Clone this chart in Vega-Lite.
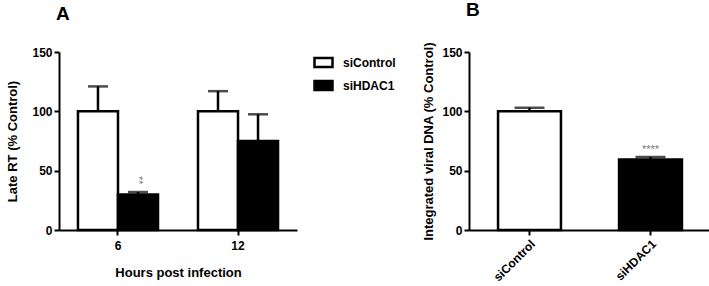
{
  "$schema": "https://vega.github.io/schema/vega-lite/v6.json",
  "padding": {"left": 6, "top": 0, "right": 0, "bottom": 0},
  "background": "white",
  "spacing": 26,
  "config": {
    "font": "Liberation Sans",
    "view": {"stroke": null},
    "axis": {
      "domainColor": "black", "domainWidth": 2, "tickColor": "black", "tickWidth": 2, "tickSize": 5,
      "labelFont": "Liberation Sans", "labelFontWeight": "bold", "labelFontSize": 12, "labelColor": "black",
      "titleFont": "Liberation Sans", "titleFontWeight": "bold", "titleFontSize": 13, "titleColor": "black",
      "grid": false
    },
    "title": {"font": "Liberation Sans", "fontSize": 19, "fontWeight": "bold", "color": "black", "anchor": "start", "frame": "group"}
  },
  "resolve": {"legend": {"fill": "independent"}, "scale": {"fill": "independent"}},
  "hconcat": [
    {
      "title": {"text": "A", "offset": 22, "dx": -3},
      "width": 238,
      "height": 178,
      "data": {"values": [
        {"hours": "6", "group": "siControl", "value": 100, "upper": 121},
        {"hours": "6", "group": "siHDAC1", "value": 30, "upper": 32, "star": "**", "starY": 42},
        {"hours": "12", "group": "siControl", "value": 100, "upper": 117},
        {"hours": "12", "group": "siHDAC1", "value": 75, "upper": 97.5}
      ]},
      "encoding": {
        "x": {"field": "hours", "type": "nominal", "sort": ["6", "12"],
              "scale": {"paddingInner": 0.333, "paddingOuter": 0.158},
              "axis": {"title": "Hours post infection", "labelAngle": 0, "titleFontSize": 13, "titlePadding": 15, "labelPadding": 5}},
        "xOffset": {"field": "group", "type": "nominal", "sort": ["siControl", "siHDAC1"]}
      },
      "layer": [
        {
          "mark": {"type": "rule", "stroke": "black", "strokeWidth": 2.5},
          "encoding": {"y": {"field": "value", "type": "quantitative"}, "y2": {"field": "upper"}}
        },
        {
          "mark": {"type": "tick", "color": "black", "size": 20, "thickness": 2.5},
          "encoding": {"y": {"field": "upper", "type": "quantitative"}}
        },
        {
          "mark": {"type": "bar", "stroke": "black", "strokeWidth": 2.5},
          "encoding": {
            "y": {"field": "value", "type": "quantitative",
                  "scale": {"domain": [0, 150], "nice": false},
                  "axis": {"title": "Late RT (% Control)", "values": [0, 50, 100, 150], "titlePadding": 12}},
            "fill": {"field": "group", "type": "nominal",
                     "scale": {"domain": ["siControl", "siHDAC1"], "range": ["white", "black"]},
                     "legend": {"title": null, "orient": "right", "offset": 16, "padding": 0,
                                "symbolType": "M-1,-0.5H1V0.5H-1Z", "symbolSize": 324,
                                "symbolStrokeColor": "black", "symbolStrokeWidth": 2.5,
                                "labelFont": "Liberation Sans", "labelFontWeight": "bold", "labelFontSize": 12, "labelColor": "black",
                                "labelOffset": 9, "rowPadding": 3}}
          }
        },
        {
          "transform": [{"filter": "datum.star"}],
          "mark": {"type": "text", "angle": 90, "color": "#777777", "fontSize": 11, "font": "Liberation Sans"},
          "encoding": {"y": {"field": "starY", "type": "quantitative"}, "text": {"field": "star"}}
        }
      ]
    },
    {
      "title": {"text": "B", "offset": 22, "dx": -3},
      "width": 242,
      "height": 178,
      "data": {"values": [
        {"group": "siControl", "value": 100, "upper": 103},
        {"group": "siHDAC1", "value": 59.5, "upper": 61.5, "star": "****", "starY": 67}
      ]},
      "encoding": {
        "x": {"field": "group", "type": "nominal", "sort": ["siControl", "siHDAC1"],
              "scale": {"paddingInner": 0.48, "paddingOuter": 0.24},
              "axis": {"title": null, "labelAngle": -45, "labelPadding": 3, "labelFontSize": 12}}
      },
      "layer": [
        {
          "mark": {"type": "rule", "stroke": "black", "strokeWidth": 2.5},
          "encoding": {"y": {"field": "value", "type": "quantitative"}, "y2": {"field": "upper"}}
        },
        {
          "mark": {"type": "tick", "color": "black", "size": 30, "thickness": 2.5},
          "encoding": {"y": {"field": "upper", "type": "quantitative"}}
        },
        {
          "mark": {"type": "bar", "stroke": "black", "strokeWidth": 2.5},
          "encoding": {
            "y": {"field": "value", "type": "quantitative",
                  "scale": {"domain": [0, 150], "nice": false},
                  "axis": {"title": "Integrated viral DNA (% Control)", "values": [0, 50, 100, 150], "titlePadding": 6}},
            "fill": {"field": "group", "type": "nominal",
                     "scale": {"domain": ["siControl", "siHDAC1"], "range": ["white", "black"]},
                     "legend": null}
          }
        },
        {
          "transform": [{"filter": "datum.star"}],
          "mark": {"type": "text", "color": "#777777", "fontSize": 11, "font": "Liberation Sans"},
          "encoding": {"y": {"field": "starY", "type": "quantitative"}, "text": {"field": "star"}}
        }
      ]
    }
  ]
}
